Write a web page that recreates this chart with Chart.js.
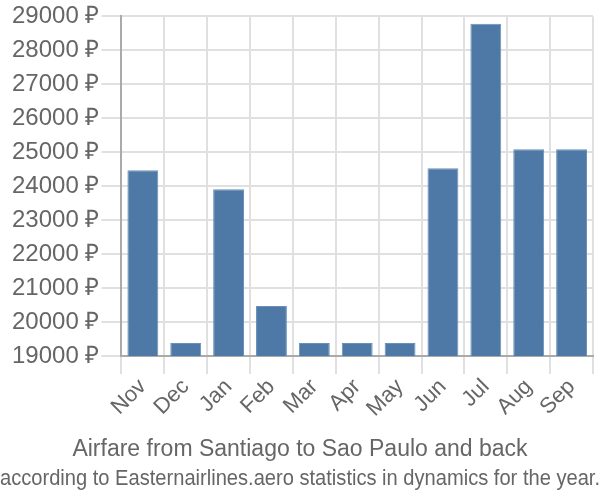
<!DOCTYPE html>
<html>
<head>
<meta charset="utf-8">
<script src="https://cdn.jsdelivr.net/npm/chart.js@4"></script>
<style>
body{margin:0;background:#fff;}
</style>
</head>
<body>
<canvas id="fareChart" width="600" height="500"></canvas>
<script>
const months = ["Nov","Dec","Jan","Feb","Mar","Apr","May","Jun","Jul","Aug","Sep"];
const prices = [24470,19380,23910,20470,19380,19380,19380,24530,28780,25090,25090];
const yMin = 19000;
const yMax = 29000;
const yStep = 1000;

const fontFamily = "'Liberation Sans', Arial, sans-serif";

new Chart(document.getElementById("fareChart"),{
type:"bar",
data:{
labels:months,
datasets:[{
data:prices,
backgroundColor:"#4e79a7",
borderColor:"#6a90b8",
borderWidth:{top:1,left:1,right:1,bottom:0}
}]
},
options:{
responsive:false,
animation:false,
layout:{padding:{top:3,right:0,left:0,bottom:0}},
plugins:{
legend:{display:false},
tooltip:{enabled:false},
// bottom boxes stack outward: subtitle sits closer to the chart than title
title:{
display:true,
position:"bottom",
text:"according to Easternairlines.aero statistics in dynamics for the year.",
color:"#666",
font:{family:fontFamily,size:22,weight:"normal"},
padding:{top:0,bottom:8}
},
subtitle:{
display:true,
position:"bottom",
text:"Airfare from Santiago to Sao Paulo and back",
color:"#666",
font:{family:fontFamily,size:23,weight:"normal"},
padding:{top:14,bottom:2}
}
},
scales:{
x:{
grid:{color:"#e0e0e0",lineWidth:2,tickLength:18},
border:{color:"#aaa",width:2},
ticks:{color:"#666",font:{family:fontFamily,size:22},maxRotation:45,minRotation:45,padding:0}
},
y:{
min:yMin,
max:yMax,
grid:{color:"#e0e0e0",lineWidth:2,tickLength:20},
border:{color:"#aaa",width:2},
ticks:{
stepSize:yStep,
color:"#666",
padding:2,
font:{family:fontFamily,size:24},
callback:(v)=>v+" ₽"
},
afterFit:(s)=>{s.width+=10;}
},
pad:{
position:"right",
grid:{display:false},
border:{display:false},
ticks:{display:false},
afterFit:(s)=>{s.width=7;}
}
}
}
});
</script>
</body>
</html>
